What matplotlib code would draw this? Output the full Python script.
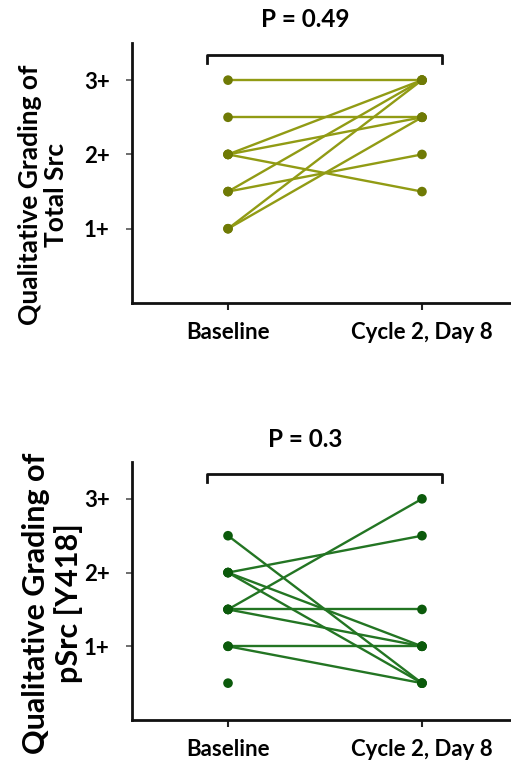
import matplotlib
matplotlib.use("Agg")
import matplotlib.pyplot as plt

plt.rcParams['font.family'] = ['Lato', 'DejaVu Sans']

categories = ["Baseline", "Cycle 2, Day 8"]
ytick_vals = [1, 2, 3]
ytick_labels = ["1+", "2+", "3+"]

# Total Src: paired (baseline, cycle 2 day 8)
src_base = [3.0, 2.5, 2.0, 2.0, 2.0, 1.5, 1.5, 1.0, 1.0]
src_c2   = [3.0, 2.5, 3.0, 2.5, 1.5, 3.0, 2.0, 3.0, 2.5]
src_p = "P = 0.49"
src_ylabel = "Qualitative Grading of\nTotal Src"

# pSrc [Y418]
psrc_base = [2.5, 2.0, 2.0, 2.0, 1.5, 1.5, 1.5, 1.0, 1.0]
psrc_c2   = [0.5, 2.5, 1.0, 0.5, 3.0, 1.5, 1.0, 1.0, 0.5]
psrc_lone_base = [0.5]
psrc_p = "P = 0.3"
psrc_ylabel = "Qualitative Grading of\npSrc [Y418]"

W, H = 511, 775
fig = plt.figure(figsize=(W / 100, H / 100), dpi=100)

def make_axes(bottom_px, top_px):
    left = 132 / W
    return fig.add_axes([left, 1 - bottom_px / H, 1.0 - left, (bottom_px - top_px) / H])

def draw(ax, base, c2, lone, line_c, mark_c, ptext):
    for b, c in zip(base, c2):
        ax.plot([0, 1], [b, c], color=line_c, lw=1.7, zorder=2, solid_capstyle='round')
    allx = [0] * len(base) + [1] * len(c2) + [0] * len(lone)
    ally = list(base) + list(c2) + list(lone)
    ax.scatter(allx, ally, s=48, color=mark_c, zorder=3, edgecolors='none')
    ax.set_xlim(-0.495, 1.459)
    ax.set_ylim(0, 3.5)
    ax.set_xticks([0, 1])
    ax.set_xticklabels(categories, fontsize=16, fontweight='bold')
    ax.set_yticks(ytick_vals)
    ax.set_yticklabels(ytick_labels, fontsize=16, fontweight='bold')
    ax.tick_params(axis='x', length=5, width=1.5, pad=9, colors='#222222', labelcolor='black')
    ax.tick_params(axis='y', length=4, width=1.2, pad=12, colors='#555555', labelcolor='black')
    for s in ['top', 'right']:
        ax.spines[s].set_visible(False)
    for s in ['left', 'bottom']:
        ax.spines[s].set_linewidth(2)
        ax.spines[s].set_color('#111111')
    # significance bracket
    ax.plot([-0.107, -0.107, 1.103, 1.103], [3.23, 3.34, 3.34, 3.23],
            color='#111111', lw=2, clip_on=False, solid_joinstyle='round')
    ax.text(0.4, 3.81, ptext, ha='center', va='center', fontsize=17.5,
            fontweight='bold', clip_on=False)

ax1 = make_axes(303, 43)
draw(ax1, src_base, src_c2, [], '#919b14', '#6f7a05', src_p)
fig.text(43.5 / W, 1 - 195 / H, src_ylabel, rotation=90, ha='center', va='center',
         multialignment='center', fontsize=19, fontweight='bold', linespacing=1.1)

ax2 = make_axes(720, 462)
draw(ax2, psrc_base, psrc_c2, psrc_lone_base, '#237523', '#0b5a0b', psrc_p)
fig.text(52.5 / W, 1 - 603 / H, psrc_ylabel, rotation=90, ha='center', va='center',
         multialignment='center', fontsize=22, fontweight='bold', linespacing=1.15)

fig.savefig("out.png", dpi=100)
